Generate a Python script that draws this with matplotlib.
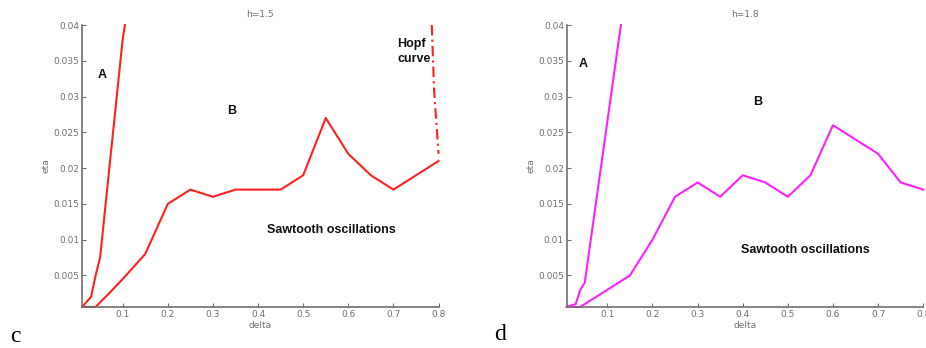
import matplotlib
matplotlib.use("Agg")
import matplotlib.pyplot as plt

# panel c, h=1.5
c_a_delta = [0.01, 0.03, 0.04, 0.05, 0.1, 0.105]
c_a_eta = [0.0006, 0.002, 0.005, 0.0075, 0.038, 0.04]
c_b_delta = [0.01, 0.04, 0.07, 0.1, 0.15, 0.2, 0.25, 0.3, 0.35, 0.45, 0.5, 0.55, 0.6, 0.65, 0.7, 0.8]
c_b_eta = [0.0006, 0.0006, 0.0025, 0.0045, 0.008, 0.015, 0.017, 0.016, 0.017, 0.017, 0.019, 0.027, 0.022, 0.019, 0.017, 0.021]
hopf_delta = [0.785, 0.79, 0.8]
hopf_eta = [0.04, 0.031, 0.022]

# panel d, h=1.8
d_a_delta = [0.01, 0.03, 0.04, 0.05, 0.13]
d_a_eta = [0.0006, 0.001, 0.003, 0.004, 0.04]
d_b_delta = [0.01, 0.04, 0.15, 0.2, 0.25, 0.3, 0.35, 0.4, 0.45, 0.5, 0.55, 0.6, 0.65, 0.7, 0.75, 0.8]
d_b_eta = [0.0006, 0.0006, 0.005, 0.01, 0.016, 0.018, 0.016, 0.019, 0.018, 0.016, 0.019, 0.026, 0.024, 0.022, 0.018, 0.017]

xticks = [0.1, 0.2, 0.3, 0.4, 0.5, 0.6, 0.7, 0.8]
yticks = [0.005, 0.01, 0.015, 0.02, 0.025, 0.03, 0.035, 0.04]

gray = '#707070'
fig = plt.figure(figsize=(9.26, 3.48), dpi=100)
ax1 = fig.add_axes([0.0886, 0.118, 0.385, 0.81])
ax2 = fig.add_axes([0.612, 0.118, 0.385, 0.81])


def style(ax, title):
    ax.set_xlim(0.01, 0.8)
    ax.set_ylim(0.0006, 0.04)
    ax.set_xticks(xticks)
    ax.set_xticklabels(['%g' % t for t in xticks])
    ax.set_yticks(yticks)
    ax.set_yticklabels(['%g' % t for t in yticks])
    for s in ['top', 'right']:
        ax.spines[s].set_visible(False)
    for s in ['left', 'bottom']:
        ax.spines[s].set_color(gray)
        ax.spines[s].set_linewidth(1.2)
    ax.tick_params(direction='in', length=3, color=gray, labelcolor=gray, labelsize=6.5, pad=2)
    ax.set_title(title, fontsize=6.5, color=gray, pad=6)
    ax.set_xlabel('delta', fontsize=6.5, color=gray, labelpad=2)
    ax.set_ylabel('eta', fontsize=6.5, color=gray, labelpad=2)


style(ax1, 'h=1.5')
ax1.plot(c_a_delta, c_a_eta, color='#ff2020', lw=1.5, clip_on=False)
ax1.plot(c_b_delta, c_b_eta, color='#ff2020', lw=1.5, clip_on=False)
ax1.plot(hopf_delta, hopf_eta, color='#ff2020', lw=1.5, ls=(0, (5, 2, 1, 2)), clip_on=False)
tk = dict(fontsize=9, fontweight='bold', family='Liberation Sans', color='#111111')
ax1.text(0.054, 0.033, 'A', ha='center', va='center', **tk)
ax1.text(0.341, 0.028, 'B', ha='center', va='center', **tk)
ax1.text(0.708, 0.0363, 'Hopf\ncurve', ha='left', va='center', linespacing=1.25, **tk)
ax1.text(0.562, 0.0113, 'Sawtooth oscillations', ha='center', va='center', **tk)

style(ax2, 'h=1.8')
ax2.plot(d_a_delta, d_a_eta, color='#ff20ff', lw=1.5, clip_on=False)
ax2.plot(d_b_delta, d_b_eta, color='#ff20ff', lw=1.5, clip_on=False)
ax2.text(0.047, 0.0346, 'A', ha='center', va='center', **tk)
ax2.text(0.434, 0.0293, 'B', ha='center', va='center', **tk)
ax2.text(0.539, 0.0085, 'Sawtooth oscillations', ha='center', va='center', **tk)

fig.text(15 / 926, 1 - 337 / 348, 'c', fontsize=17, family='Liberation Serif', ha='center', va='center')
fig.text(500 / 926, 1 - 335 / 348, 'd', fontsize=17, family='Liberation Serif', ha='center', va='center')

fig.savefig('out.png', dpi=100)
